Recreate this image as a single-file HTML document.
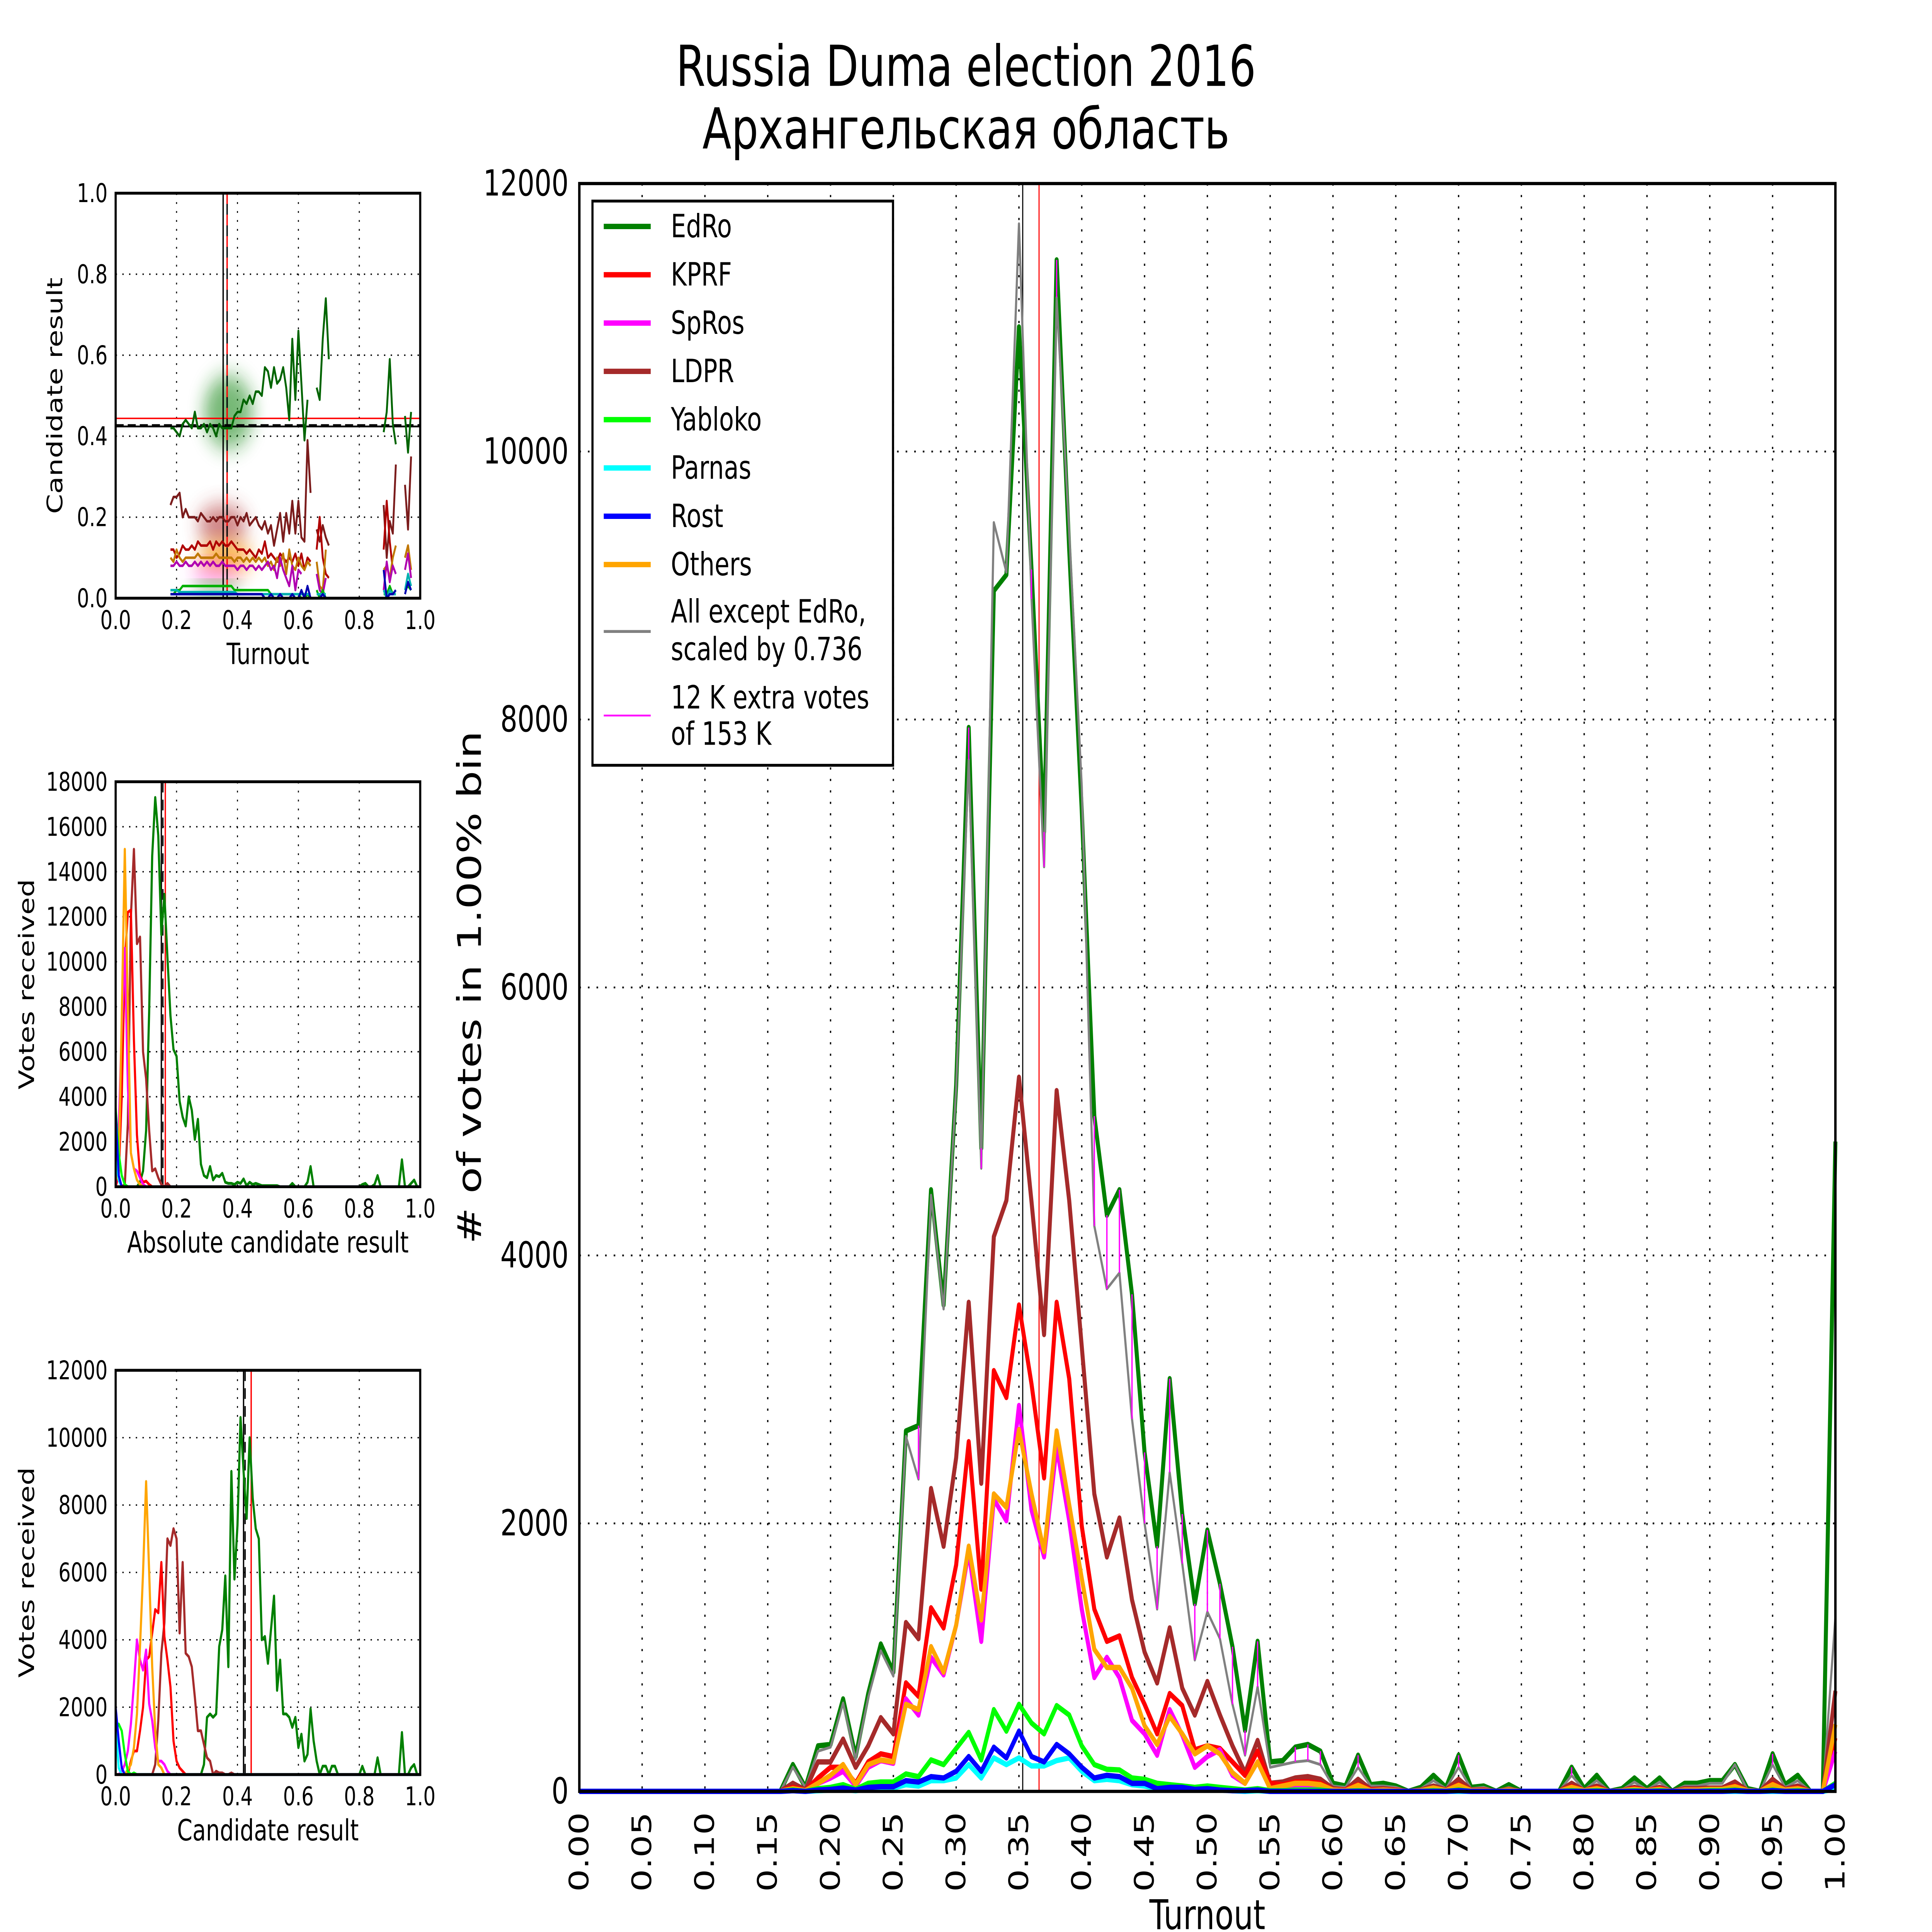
<!DOCTYPE html>
<html><head><meta charset="utf-8"><style>
html,body{margin:0;padding:0;background:#fff;width:100%;height:100%;overflow:hidden;}
svg{display:block;width:100vw;height:100vh;}
text{font-family:"DejaVu Sans","Liberation Sans","Noto Sans CJK SC",sans-serif;fill:#000;}
</style></head><body>
<svg id="fig" xmlns="http://www.w3.org/2000/svg" viewBox="0 0 7200 5400" preserveAspectRatio="none">
<rect x="0" y="0" width="7200" height="5400" fill="#fff"/>
<defs><filter id="blur" x="-50%" y="-50%" width="200%" height="200%"><feGaussianBlur stdDeviation="30"/></filter></defs>
<text x="3600" y="240" font-size="158" text-anchor="middle">Russia Duma election 2016</text>
<text x="3600" y="415" font-size="158" text-anchor="middle">Архангельская область</text>
</svg>
<script>
// ===== MAIN CHART DATA (turnout bins 0.00..1.00, step 0.01) =====
const Z16 = [0,0,0,0,0,0,0,0,0,0,0,0,0,0,0,0];
const mainTicksX = ["0.00","0.05","0.10","0.15","0.20","0.25","0.30","0.35","0.40","0.45","0.50","0.55","0.60","0.65","0.70","0.75","0.80","0.85","0.90","0.95","1.00"];
const mainTicksY = [0,2000,4000,6000,8000,10000,12000];
const edro = Z16.concat([0,200,30,340,350,690,260,730,1100,890,
2690,2730,4490,3630,5270,7940,4800,8960,9080,10930,
9120,7160,11430,9270,7320,5040,4300,4490,3710,2530,
1830,3080,2070,1400,1950,1550,1080,455,1120,220,
230,330,350,300,60,40,270,50,60,40,
0,30,120,30,270,30,40,0,50,0,
0,0,0,180,20,120,0,20,100,20,
100,0,60,60,80,80,200,20,0,280,
50,120,0,0,4850]);
const grayScaled = Z16.concat([0,180,30,300,330,660,240,700,1050,860,
2650,2330,4450,3600,5250,7700,4650,9470,9100,11700,
8900,6900,11150,9400,7500,4220,3750,3870,2780,2000,
1360,2380,1700,980,1340,1140,650,270,780,180,
200,220,230,200,40,30,180,40,40,30,
0,20,80,20,180,20,30,0,30,0,
0,0,0,120,10,80,0,10,70,10,
70,0,40,40,60,60,200,10,0,200,
30,80,0,0,1300]);
const ldpr = Z16.concat([0,60,10,220,220,390,180,340,550,430,
1260,1140,2260,1830,2490,3650,2300,4140,4410,5330,
4400,3410,5230,4410,3320,2220,1750,2040,1430,1040,
810,1220,770,570,820,570,340,140,380,60,
70,100,110,90,20,10,90,15,20,10,
0,10,40,10,90,10,10,0,15,0,
0,0,0,60,5,40,0,5,30,5,
30,0,20,20,25,25,70,5,0,90,
15,40,0,0,750]);
const kprf = Z16.concat([0,30,5,100,180,180,60,220,280,260,
810,710,1370,1220,1690,2610,1510,3140,2940,3630,
3040,2340,3650,3080,1980,1360,1120,1160,850,650,
430,730,640,310,340,320,220,120,300,60,
50,70,70,60,10,10,50,10,10,10,
0,5,25,5,50,5,10,0,10,0,
0,0,0,35,5,25,0,5,20,5,
20,0,10,10,15,15,40,5,0,55,
10,25,0,0,400]);
const spros = Z16.concat([0,20,5,60,100,150,40,180,230,210,
690,570,1000,870,1240,1790,1120,2180,2020,2880,
2100,1750,2570,2020,1360,850,1000,850,530,430,
270,610,420,180,260,310,120,60,220,20,
40,50,50,40,10,5,40,5,10,5,
0,5,20,5,40,5,5,0,5,0,
0,0,0,25,5,15,0,5,15,5,
15,0,10,10,10,10,30,5,0,40,
5,20,0,0,300]);
const others = Z16.concat([0,20,5,60,120,200,50,200,235,220,
650,610,1080,890,1240,1830,1280,2220,2120,2700,
2220,1790,2690,2140,1590,1060,925,925,770,490,
350,560,430,280,340,280,140,60,220,20,
40,60,60,50,10,5,45,5,10,5,
0,5,25,5,45,5,5,0,10,0,
0,0,0,30,5,20,0,5,15,5,
15,0,10,10,15,15,35,5,0,50,
10,20,0,0,500]);
const yabloko = Z16.concat([0,10,0,20,30,50,15,60,70,70,
130,110,235,200,320,440,235,610,450,650,
510,430,640,570,340,200,165,160,100,90,
60,50,40,30,40,30,20,10,20,5,
5,10,10,10,0,0,5,0,0,0,
0,0,5,0,10,0,0,0,0,0,
0,0,0,5,0,5,0,0,5,0,
5,0,0,0,5,5,10,0,0,10,
0,5,0,0,60]);
const rost = Z16.concat([0,5,0,10,15,25,10,30,35,35,
80,70,110,100,150,260,150,330,250,450,
260,220,350,280,180,100,120,110,60,60,
20,30,30,15,20,10,5,5,10,0,
0,0,0,0,0,0,0,0,0,0,
0,0,0,0,5,0,0,0,0,0,
0,0,0,0,0,0,0,0,0,0,
0,0,0,0,0,0,5,0,0,5,
0,0,0,0,50]);
const parnas = Z16.concat([0,5,0,5,10,15,5,20,25,25,
50,40,80,80,100,200,100,250,200,250,
190,190,230,250,150,80,90,80,50,40,
20,20,15,10,10,10,5,0,5,0,
0,0,0,0,0,0,0,0,0,0,
0,0,0,0,0,0,0,0,0,0,
0,0,0,0,0,0,0,0,0,0,
0,0,0,0,0,0,0,0,0,0,
0,0,0,0,20]);
const meanTurnout = 0.353;
const medianTurnout = 0.366;

// ===== PANEL 1 DATA =====
const p1Ticks = ["0.0","0.2","0.4","0.6","0.8","1.0"];
const p1EdroA = [.42,.42,.41,.40,.43,.44,.43,.42,.46,.42,.42,.43,.41,.43,.42,.40,.43,.42,.42,.42,.42,.45,.46,.46,.49,.48,.50,.48,.51,.51,.50,.57,.56,.52,.57,.53,.54,.57,.52,.44,.64,.49,.66,.53,.39,.49,null,null,.52,.49,.64,.74,.59,null,null];
const p1LdprA = [.23,.25,.25,.26,.20,.22,.20,.20,.20,.19,.21,.20,.19,.19,.20,.19,.20,.20,.19,.19,.20,.20,.18,.20,.19,.21,.18,.19,.20,.18,.17,.19,.16,.18,.13,.17,.21,.14,.21,.16,.24,.16,.24,.15,.14,.39,.26,null,.17,.14,.18,.15,.13,null,null];
const p1KprfA = [.12,.12,.10,.11,.13,.12,.12,.13,.12,.14,.13,.13,.13,.14,.12,.14,.13,.14,.13,.13,.14,.13,.12,.12,.12,.11,.12,.11,.10,.12,.11,.14,.10,.11,.10,.09,.11,.10,.09,.10,.09,.11,.08,.11,.07,.10,.09,null,.12,.20,.10,.06,.05,null,null];
const p1OthersA = [.10,.09,.12,.10,.09,.10,.10,.10,.10,.11,.10,.10,.10,.10,.10,.11,.10,.10,.10,.10,.10,.09,.10,.10,.09,.10,.09,.10,.09,.10,.09,.10,.08,.09,.07,.10,.08,.11,.06,.12,.08,.07,.10,.08,.07,.09,.08,null,.09,.03,.02,.12,null,null,null];
const p1SprosA = [.08,.08,.09,.08,.08,.09,.08,.08,.09,.08,.09,.08,.09,.08,.09,.08,.08,.09,.08,.08,.08,.08,.07,.08,.08,.07,.08,.08,.07,.08,.07,.08,.09,.07,.08,.05,.10,.07,.05,.03,.08,.02,.07,.06,null,null,.09,null,.06,.02,.01,.05,null,null,null];
const p1YablokoA = [.01,.01,.02,.02,.03,.03,.03,.03,.03,.03,.03,.03,.03,.03,.03,.03,.03,.03,.03,.03,.03,.02,.02,.02,.02,.02,.02,.02,.02,.02,.02,.02,.02,.01,.01,.01,.01,.01,.01,.01,.01,.01,.01,.00,.00,.01,.00,null,.02,.00,.02,.00,null,null,null];
const p1RostA = [.01,.01,.01,.01,.01,.01,.01,.01,.01,.01,.01,.01,.01,.01,.01,.01,.01,.01,.01,.01,.01,.01,.01,.01,.01,.01,.01,.01,.01,.01,.01,.00,.00,.01,.00,.00,.01,.00,.00,.00,.01,.00,.00,.02,.00,.03,.00,null,.00,.00,.01,.00,null,null,null];
const p1ParnasA = [.02,.02,.02,.015,.015,.015,.015,.015,.015,.015,.015,.015,.015,.015,.015,.015,.015,.015,.015,.015,.015,.015,.01,.01,.01,.01,.01,.01,.01,.01,.01,.01,.01,.01,.01,.01,.01,.01,.01,.01,.01,.01,.01,.01,.01,.01,.01,null,.01,.01,.01,.01,null,null,null];
const p1EdroB = [.41,.46,.59,.43,.38,null,null,.45,.36,.46];
const p1LdprB = [.23,.10,.19,.16,.33,null,null,.28,.17,.35];
const p1KprfB = [.12,.24,.14,.07,null,null,null,.10,.13,.07];
const p1OthersB = [.07,.08,.05,.10,.13,null,null,.10,.13,.07];
const p1SprosB = [.02,.09,.04,.08,.06,null,null,.07,.11,.05];
const p1YablokoB = [.01,.01,.03,.01,.01,null,null,.02,.03,.02];
const p1RostB = [.07,.00,.01,.01,.02,null,null,.01,.04,.02];
const p1ParnasB = [.02,.00,.02,.01,.01,null,null,.02,.06,.03];
const p1StartA = 0.18, p1StartB = 0.88;
const p1MeanResult = 0.424, p1MeanResult2 = 0.428, p1MedianResult = 0.444;

// ===== PANEL 2 DATA =====
const p2Ticks = [0,2000,4000,6000,8000,10000,12000,14000,16000,18000];
const p2EdroStart = 0.07;
const p2Edro = [0,200,700,2500,7800,14700,17300,15600,11200,13000,
10200,7600,6100,5800,3800,3100,2700,4000,3400,2100,
3000,1000,500,400,900,300,500,450,600,200,
150,150,100,200,150,350,50,200,100,150,
100,50,50,50,50,50,50,0,0,0,
0,150,0,0,0,0,200,900,0,0,
0,0,0,0,0,0,0,0,0,0,
0,0,0,0,100,150,0,0,100,500,
0,0,0,0,0,0,0,1200,0,0,
150,300,0,0];
const p2Others = [300,600,7500,15000,8000,1500,800,300,100,0];
const p2Kprf = [0,500,4000,10000,12200,12300,6500,2300,500,200,250,100,0];
const p2Spros = [0,2500,7000,10600,4500,1500,800,700,400,100,0];
const p2Ldpr = [0,0,0,100,2800,12000,15000,10800,11100,6000,4800,2500,700,800,400,100,0,150,0];
const p2Yabloko = [3500,1500,500,100,0];
const p2Rost = [3300,500,0];
const p2Parnas = [1200,300,0];
const p2Lines = [0.150, 0.155, 0.163];

// ===== PANEL 3 DATA =====
const p3Ticks = [0,2000,4000,6000,8000,10000,12000];
const p3EdroStart = 0.28;
const p3Edro = [0,300,1700,1800,1700,1800,3800,4300,5900,3200,
9000,5800,7400,10600,9000,7600,10000,8200,7300,7000,
4000,4100,3300,4300,5300,2500,3400,1800,1800,1700,
1400,1700,800,1200,400,600,1950,1000,400,0,
250,250,0,250,250,0,0,0,0,0,
0,0,0,250,0,0,0,0,500,0,
0,0,0,0,0,0,1250,0,0,200,
300,0,0];
const p3LdprStart = 0.12;
const p3Ldpr = [0,300,1600,3600,4500,7000,6800,7300,7000,4200,6300,3600,3500,3200,2300,1300,1300,900,500,400,0,100,50,50,0,0,50,0];
const p3KprfStart = 0.04;
const p3Kprf = [0,400,700,700,1300,2000,3400,3500,4200,4900,4800,6300,4100,3400,2600,1000,400,200,100,0];
const p3OthersStart = 0.03;
const p3Others = [0,150,300,800,1800,3800,6000,8700,6000,3200,1300,300,200,0];
const p3SprosStart = 0.01;
const p3Spros = [0,100,300,700,1500,2700,4000,3400,3100,3700,2100,1600,800,400,400,300,100,0];
const p3Yabloko = [1500,1500,1300,600,100,0,50,0];
const p3Rost = [2000,1000,200,0];
const p3Parnas = [1400,200,0];
const p3Lines = [0.420, 0.425, 0.445];

// ===== helpers =====
const NS = 'http://www.w3.org/2000/svg';
const svg = document.getElementById('fig');
function mk(tag, attrs, parent) {
  const e = document.createElementNS(NS, tag);
  for (const k in attrs) e.setAttribute(k, attrs[k]);
  (parent || svg).appendChild(e);
  return e;
}
function linScale(d0, d1, r0, r1) { return v => r0 + (v - d0) * (r1 - r0) / (d1 - d0); }
function pad(start, arr) {
  const out = [];
  const s = Math.round(start * 100);
  for (let i = 0; i <= 100; i++) {
    const j = i - s;
    out.push(j >= 0 && j < arr.length ? arr[j] : 0);
  }
  return out;
}
function pathFrom(start, arr, sx, sy) {
  let d = '', pen = false;
  for (let i = 0; i < arr.length; i++) {
    const v = arr[i];
    const t = start + i * 0.01;
    if (v === null || t > 1.0001) { pen = false; continue; }
    d += (pen ? 'L' : 'M') + sx(t).toFixed(1) + ' ' + sy(v).toFixed(1) + ' ';
    pen = true;
  }
  return d;
}
function series(g, start, arr, sx, sy, color, w, name) {
  const p = mk('path', {d: pathFrom(start, arr, sx, sy), fill: 'none', stroke: color, 'stroke-width': w, 'stroke-linejoin': 'round'}, g);
  
  
  return p;
}

// ===== MAIN CHART =====
const M = {L: 2159, R: 6840, T: 513, B: 5007};
const mx = linScale(0, 1, M.L, M.R);
const my = linScale(0, 12000, M.B, M.T);
const mainG = mk('g', {});


mainTicksX.forEach((lab, i) => {
  const x = mx(parseFloat(lab));
  const gl = mk('line', {x1: x, x2: x, y1: M.T, y2: M.B, stroke: '#000', 'stroke-width': 5, 'stroke-dasharray': '6 26'}, mainG);
  
  
  const tk = mk('text', {x: x, y: M.B + 58, 'font-size': 100, 'text-anchor': 'end', 'dominant-baseline': 'central', transform: `rotate(-90 ${x} ${M.B + 58})`}, mainG);
  tk.textContent = lab;
  
  
});
mainTicksY.forEach(v => {
  const y = my(v);
  const gl = mk('line', {x1: M.L, x2: M.R, y1: y, y2: y, stroke: '#000', 'stroke-width': 5, 'stroke-dasharray': '6 26'}, mainG);
  
  
  const tk = mk('text', {x: M.L - 40, y: y, 'font-size': 100, 'text-anchor': 'end', 'dominant-baseline': 'central'}, mainG);
  tk.textContent = String(v);
  
  
});
const vlm = mk('line', {x1: mx(meanTurnout), x2: mx(meanTurnout), y1: M.T, y2: M.B, stroke: '#000', 'stroke-width': 4}, mainG);


const vlr = mk('line', {x1: mx(medianTurnout), x2: mx(medianTurnout), y1: M.T, y2: M.B, stroke: '#f00', 'stroke-width': 4}, mainG);


series(mainG, 0, edro, mx, my, '#008000', 15, 'series-edro');
series(mainG, 0, grayScaled, mx, my, '#808080', 8, 'series-all-except-edro-scaled');
edro.forEach((v, i) => {
  if (v > grayScaled[i] + 50) {
    const t = i * 0.01;
    const ex = mk('line', {x1: mx(t), x2: mx(t), y1: my(grayScaled[i]), y2: my(v), stroke: '#f0f', 'stroke-width': 5}, mainG);
    
    
  }
});
series(mainG, 0, ldpr, mx, my, '#a52a2a', 15, 'series-ldpr');
series(mainG, 0, kprf, mx, my, '#ff0000', 15, 'series-kprf');
series(mainG, 0, spros, mx, my, '#ff00ff', 15, 'series-spros');
series(mainG, 0, others, mx, my, '#ffa500', 15, 'series-others');
series(mainG, 0, yabloko, mx, my, '#00ff00', 15, 'series-yabloko');
series(mainG, 0, parnas, mx, my, '#00ffff', 15, 'series-parnas');
series(mainG, 0, rost, mx, my, '#0000ff', 15, 'series-rost');
const mframe = mk('rect', {x: M.L, y: M.T, width: M.R - M.L, height: M.B - M.T, fill: 'none', stroke: '#000', 'stroke-width': 9}, mainG);


const mxl = mk('text', {x: (M.L + M.R) / 2, y: 5392, 'font-size': 115, 'text-anchor': 'middle'}, mainG);
mxl.textContent = 'Turnout';


const myl = mk('text', {x: 1750, y: (M.T + M.B) / 2, 'font-size': 122, 'text-anchor': 'middle', 'dominant-baseline': 'central', transform: `rotate(-90 1750 ${(M.T + M.B) / 2})`}, mainG);
myl.textContent = '# of votes in 1.00% bin';



// legend
const legG = mk('g', {});


const lbox = mk('rect', {x: 2208, y: 562, width: 1120, height: 1577, fill: '#fff', stroke: '#000', 'stroke-width': 8}, legG);


const legendNames = ['EdRo', 'KPRF', 'SpRos', 'LDPR', 'Yabloko', 'Parnas', 'Rost', 'Others'];
const legendColors = ['#008000', '#ff0000', '#ff00ff', '#a52a2a', '#00ff00', '#00ffff', '#0000ff', '#ffa500'];
legendNames.forEach((n, i) => {
  const y = 633 + i * 135;
  const ln = mk('line', {x1: 2250, x2: 2425, y1: y, y2: y, stroke: legendColors[i], 'stroke-width': 15}, legG);
  
  
  const tx = mk('text', {x: 2500, y: y, 'font-size': 90, 'dominant-baseline': 'central'}, legG);
  tx.textContent = n;
  
  
});
const lg1 = mk('line', {x1: 2250, x2: 2425, y1: 1765, y2: 1765, stroke: '#808080', 'stroke-width': 8}, legG);


const lgt1 = mk('text', {x: 2500, y: 1710, 'font-size': 90, 'dominant-baseline': 'central'}, legG);
lgt1.textContent = 'All except EdRo,';


const lgt1b = mk('text', {x: 2500, y: 1815, 'font-size': 90, 'dominant-baseline': 'central'}, legG);
lgt1b.textContent = 'scaled by 0.736';


const lg2 = mk('line', {x1: 2250, x2: 2425, y1: 2000, y2: 2000, stroke: '#ff00ff', 'stroke-width': 5}, legG);


const lgt2 = mk('text', {x: 2500, y: 1950, 'font-size': 90, 'dominant-baseline': 'central'}, legG);
lgt2.textContent = '12 K extra votes';


const lgt2b = mk('text', {x: 2500, y: 2052, 'font-size': 90, 'dominant-baseline': 'central'}, legG);
lgt2b.textContent = ' of 153 K';



// ===== small panels =====
function smallAxes(P, yTicks, yMax, yLabels, xLabel, yLabel, name) {
  const g = mk('g', {});
  
  
  const sx = linScale(0, 1, P.L, P.R);
  const sy = linScale(0, yMax, P.B, P.T);
  [0, 0.2, 0.4, 0.6, 0.8, 1.0].forEach(t => {
    const x = sx(t);
    if (t > 0 && t < 1) {
      const gl = mk('line', {x1: x, x2: x, y1: P.T, y2: P.B, stroke: '#000', 'stroke-width': 4, 'stroke-dasharray': '5 20'}, g);
      
      
    }
    const tk = mk('text', {x: x, y: P.B + 86, 'font-size': 72, 'text-anchor': 'middle'}, g);
    tk.textContent = t.toFixed(1);
    
    
  });
  yTicks.forEach((v, i) => {
    const y = sy(v);
    if (v > 0 && v < yMax) {
      const gl = mk('line', {x1: P.L, x2: P.R, y1: y, y2: y, stroke: '#000', 'stroke-width': 4, 'stroke-dasharray': '5 20'}, g);
      
      
    }
    const tk = mk('text', {x: P.L - 30, y: y, 'font-size': 72, 'text-anchor': 'end', 'dominant-baseline': 'central'}, g);
    tk.textContent = yLabels[i];
    
    
  });
  const xl = mk('text', {x: (P.L + P.R) / 2, y: P.B + 184, 'font-size': 82, 'text-anchor': 'middle'}, g);
  xl.textContent = xLabel;
  
  
  const cy = (P.T + P.B) / 2;
  const yl = mk('text', {x: P.yLabX, y: cy, 'font-size': 80, 'text-anchor': 'middle', 'dominant-baseline': 'central', transform: `rotate(-90 ${P.yLabX} ${cy})`}, g);
  yl.textContent = yLabel;
  
  
  return {g, sx, sy};
}
function frame(g, P) {
  const f = mk('rect', {x: P.L, y: P.T, width: P.R - P.L, height: P.B - P.T, fill: 'none', stroke: '#000', 'stroke-width': 8}, g);
  
  
}
function vline(g, P, x, color, dash, name) {
  const a = {x1: x, x2: x, y1: P.T, y2: P.B, stroke: color, 'stroke-width': 5};
  if (dash) a['stroke-dasharray'] = dash;
  const l = mk('line', a, g);
  
  
}

// Panel 1
const P1 = {L: 431, R: 1566, T: 540, B: 1672, yLabX: 205};
const A1 = smallAxes(P1, [0, 0.2, 0.4, 0.6, 0.8, 1.0], 1.0, p1Ticks, 'Turnout', 'Candidate result', 'scatter-panel');
const clouds = [
  {t: 0.37, r: 0.46, rx: 0.08, ry: 0.09, c: '#1a8a1a', o: 0.6, n: 'edro-scatter-cloud'},
  {t: 0.35, r: 0.18, rx: 0.08, ry: 0.05, c: '#b03030', o: 0.6, n: 'ldpr-scatter-cloud'},
  {t: 0.36, r: 0.10, rx: 0.09, ry: 0.035, c: '#ff9900', o: 0.75, n: 'others-scatter-cloud'},
  {t: 0.33, r: 0.06, rx: 0.08, ry: 0.025, c: '#ff40ff', o: 0.5, n: 'spros-scatter-cloud'},
  {t: 0.33, r: 0.025, rx: 0.08, ry: 0.012, c: '#10c010', o: 0.7, n: 'yabloko-scatter-cloud'}
];
clouds.forEach(c => {
  const e = mk('ellipse', {cx: A1.sx(c.t), cy: A1.sy(c.r), rx: c.rx * (P1.R - P1.L), ry: c.ry * (P1.B - P1.T), fill: c.c, opacity: c.o, filter: 'url(#blur)'}, A1.g);
  
  
});
const hl1 = mk('line', {x1: P1.L, x2: P1.R, y1: A1.sy(p1MeanResult), y2: A1.sy(p1MeanResult), stroke: '#000', 'stroke-width': 5}, A1.g);


const hl2 = mk('line', {x1: P1.L, x2: P1.R, y1: A1.sy(p1MeanResult2), y2: A1.sy(p1MeanResult2), stroke: '#000', 'stroke-width': 4, 'stroke-dasharray': '30 15'}, A1.g);


const hl3 = mk('line', {x1: P1.L, x2: P1.R, y1: A1.sy(p1MedianResult), y2: A1.sy(p1MedianResult), stroke: '#f00', 'stroke-width': 4}, A1.g);


vline(A1.g, P1, A1.sx(meanTurnout), '#000', null, 'mean-turnout-line');
vline(A1.g, P1, A1.sx(medianTurnout), '#000', null, 'median-turnout-line');
vline(A1.g, P1, A1.sx(medianTurnout), '#f00', '30 30', 'median-turnout-line-red');
[[p1EdroA, p1EdroB, '#006400', 'edro'], [p1LdprA, p1LdprB, '#7b1c1c', 'ldpr'], [p1KprfA, p1KprfB, '#b00000', 'kprf'],
 [p1OthersA, p1OthersB, '#c07800', 'others'], [p1SprosA, p1SprosB, '#b000b0', 'spros'], [p1YablokoA, p1YablokoB, '#00b000', 'yabloko'],
 [p1ParnasA, p1ParnasB, '#00b0b0', 'parnas'], [p1RostA, p1RostB, '#0000b0', 'rost']].forEach(s => {
  series(A1.g, p1StartA, s[0], A1.sx, A1.sy, s[2], 7, 'p1-line-' + s[3]);
  series(A1.g, p1StartB, s[1], A1.sx, A1.sy, s[2], 7, 'p1-line-' + s[3] + '-tail');
});
frame(A1.g, P1);

// Panel 2
const P2 = {L: 431, R: 1566, T: 2185, B: 3317, yLabX: 100};
const A2 = smallAxes(P2, p2Ticks, 18000, p2Ticks.map(String), 'Absolute candidate result', 'Votes received', 'absolute-result-panel');
vline(A2.g, P2, A2.sx(p2Lines[0]), '#000', null, 'mean-line');
vline(A2.g, P2, A2.sx(p2Lines[1]), '#000', '30 20', 'median-line');
vline(A2.g, P2, A2.sx(p2Lines[2]), '#f00', null, 'weighted-line');
series(A2.g, 0, pad(p2EdroStart, p2Edro), A2.sx, A2.sy, '#008000', 8, 'p2-line-edro');
series(A2.g, 0, pad(0, p2Ldpr), A2.sx, A2.sy, '#a52a2a', 8, 'p2-line-ldpr');
series(A2.g, 0, pad(0, p2Kprf), A2.sx, A2.sy, '#ff0000', 8, 'p2-line-kprf');
series(A2.g, 0, pad(0, p2Spros), A2.sx, A2.sy, '#ff00ff', 8, 'p2-line-spros');
series(A2.g, 0, pad(0, p2Others), A2.sx, A2.sy, '#ffa500', 8, 'p2-line-others');
series(A2.g, 0, pad(0, p2Yabloko), A2.sx, A2.sy, '#00ff00', 8, 'p2-line-yabloko');
series(A2.g, 0, pad(0, p2Parnas), A2.sx, A2.sy, '#00ffff', 8, 'p2-line-parnas');
series(A2.g, 0, pad(0, p2Rost), A2.sx, A2.sy, '#0000ff', 8, 'p2-line-rost');
frame(A2.g, P2);

// Panel 3
const P3 = {L: 431, R: 1566, T: 3830, B: 4960, yLabX: 100};
const A3 = smallAxes(P3, p3Ticks, 12000, p3Ticks.map(String), 'Candidate result', 'Votes received', 'candidate-result-panel');
vline(A3.g, P3, A3.sx(p3Lines[0]), '#000', null, 'mean-line');
vline(A3.g, P3, A3.sx(p3Lines[1]), '#000', '30 20', 'median-line');
vline(A3.g, P3, A3.sx(p3Lines[2]), '#f00', null, 'weighted-line');
series(A3.g, 0, pad(p3EdroStart, p3Edro), A3.sx, A3.sy, '#008000', 8, 'p3-line-edro');
series(A3.g, 0, pad(p3LdprStart, p3Ldpr), A3.sx, A3.sy, '#a52a2a', 8, 'p3-line-ldpr');
series(A3.g, 0, pad(p3KprfStart, p3Kprf), A3.sx, A3.sy, '#ff0000', 8, 'p3-line-kprf');
series(A3.g, 0, pad(p3SprosStart, p3Spros), A3.sx, A3.sy, '#ff00ff', 8, 'p3-line-spros');
series(A3.g, 0, pad(p3OthersStart, p3Others), A3.sx, A3.sy, '#ffa500', 8, 'p3-line-others');
series(A3.g, 0, pad(0, p3Yabloko), A3.sx, A3.sy, '#00ff00', 8, 'p3-line-yabloko');
series(A3.g, 0, pad(0, p3Parnas), A3.sx, A3.sy, '#00ffff', 8, 'p3-line-parnas');
series(A3.g, 0, pad(0, p3Rost), A3.sx, A3.sy, '#0000ff', 8, 'p3-line-rost');
frame(A3.g, P3);
</script>
</body></html>
